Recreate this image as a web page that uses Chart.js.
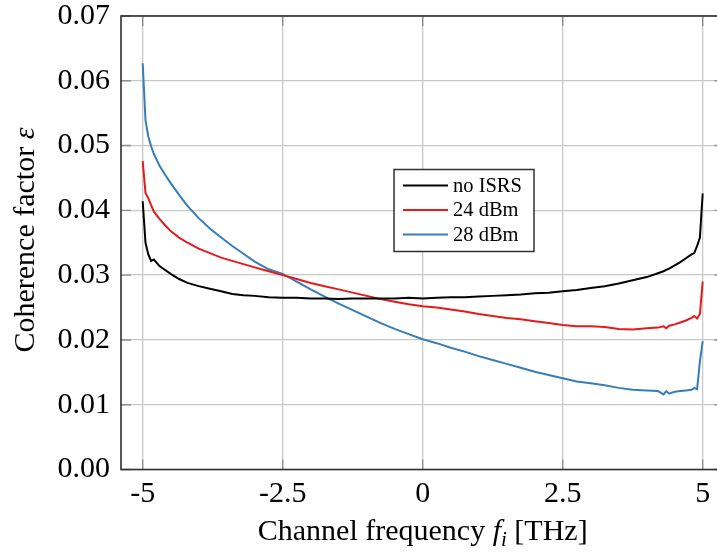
<!DOCTYPE html>
<html><head><meta charset="utf-8">
<script src="https://cdn.jsdelivr.net/npm/chart.js@4/dist/chart.umd.min.js"></script>
<style>
html,body{margin:0;padding:0;overflow:hidden;background:#fff;width:717px;height:554px}
#wrap{position:absolute;left:0;top:0;width:730px;height:554px}
</style>
</head><body><div id="wrap"><canvas id="c" width="730" height="554"></canvas></div>
<script>
const freqTHz = [-5,-4.95,-4.9,-4.85,-4.8,-4.7,-4.6,-4.5,-4.35,-4.2,-4.0,-3.8,-3.6,-3.4,-3.2,-3.0,-2.75,-2.5,-2.25,-2.0,-1.75,-1.5,-1.25,-1.0,-0.75,-0.5,-0.25,0,0.25,0.5,0.75,1.0,1.25,1.5,1.75,2.0,2.25,2.5,2.75,3.0,3.25,3.5,3.75,4.0,4.2,4.3,4.35,4.4,4.5,4.6,4.7,4.8,4.85,4.9,4.95,5.0];
const noISRS = [0.0414,0.0350,0.0332,0.0322,0.0324,0.0314,0.0308,0.0302,0.0294,0.0288,0.0283,0.0279,0.0275,0.0271,0.0269,0.0268,0.0266,0.0265,0.0265,0.0264,0.0264,0.0263,0.0264,0.0264,0.0264,0.0264,0.0265,0.0264,0.0265,0.0266,0.0266,0.0267,0.0268,0.0269,0.0270,0.0272,0.0273,0.0275,0.0277,0.0280,0.0283,0.0287,0.0292,0.0297,0.0303,0.0306,0.0308,0.0310,0.0315,0.0320,0.0326,0.0332,0.0334,0.0345,0.0358,0.0426];
const p24dBm = [0.0476,0.0427,0.0419,0.0408,0.0398,0.0387,0.0377,0.0368,0.0358,0.0350,0.0341,0.0334,0.0327,0.0322,0.0317,0.0312,0.0306,0.0300,0.0294,0.0288,0.0283,0.0278,0.0273,0.0268,0.0263,0.0259,0.0255,0.0252,0.0250,0.0247,0.0244,0.0240,0.0237,0.0234,0.0232,0.0229,0.0226,0.0223,0.0221,0.0221,0.0220,0.0217,0.0216,0.0218,0.0219,0.0221,0.0218,0.0222,0.0224,0.0227,0.0230,0.0234,0.0237,0.0233,0.0240,0.0290];
const p28dBm = [0.0627,0.0539,0.0514,0.0499,0.0487,0.0469,0.0455,0.0442,0.0424,0.0407,0.0388,0.0372,0.0358,0.0345,0.0333,0.0321,0.0309,0.0302,0.0290,0.0278,0.0267,0.0256,0.0246,0.0236,0.0226,0.0217,0.0209,0.0201,0.0195,0.0188,0.0182,0.0175,0.0169,0.0163,0.0157,0.0151,0.0146,0.0141,0.0136,0.0133,0.0130,0.0126,0.0123,0.0122,0.0121,0.0116,0.0121,0.0117,0.0120,0.0121,0.0122,0.0123,0.0126,0.0124,0.0167,0.0198];
const seriesLabels = ['no ISRS','24 dBm','28 dBm'];
const seriesColors = ['#000000','#E41A1C','#377EB8'];
const xTicks = [-5,-2.5,0,2.5,5];
const yTicks = [0,0.01,0.02,0.03,0.04,0.05,0.06,0.07];
const xTitleRuns = [['Channel frequency ',''],['f','italic'],['i','sub'],[' [THz]','']];
const yTitleRuns = [['Coherence factor ',''],['ε','italic']];

const FAM = "'Liberation Serif', 'Times New Roman', serif";
const toPts = arr => arr.map((v,i)=>({x:freqTHz[i], y:v}));
const seriesValues = [noISRS, p24dBm, p28dBm];

function runFont(kind){
  if(kind==='italic') return 'italic 30px '+FAM;
  if(kind==='sub') return 'italic 21px '+FAM;
  return '30px '+FAM;
}
function drawRuns(ctx, runs, cx, baseY){
  let total=0;
  runs.forEach(r=>{ctx.font=runFont(r[1]); total+=ctx.measureText(r[0]).width;});
  let x=cx-total/2;
  ctx.textAlign='left'; ctx.textBaseline='alphabetic'; ctx.fillStyle='#000';
  runs.forEach(r=>{
    ctx.font=runFont(r[1]);
    ctx.fillText(r[0], x, baseY + (r[1]==='sub'?6:0));
    x+=ctx.measureText(r[0]).width;
  });
}

const decor = {
  id:'decor',
  beforeDatasetsDraw(chart){
    const {ctx, chartArea:a, scales:{x,y}} = chart;
    ctx.save(); ctx.strokeStyle='#8f8f8f'; ctx.lineWidth=1.4;
    ctx.beginPath();
    xTicks.forEach(v=>{const px=x.getPixelForValue(v);
      ctx.moveTo(px,a.bottom); ctx.lineTo(px,a.bottom-10);
      ctx.moveTo(px,a.top); ctx.lineTo(px,a.top+10);});
    yTicks.forEach(v=>{const py=y.getPixelForValue(v);
      ctx.moveTo(a.left,py); ctx.lineTo(a.left+10,py);
      ctx.moveTo(a.right,py); ctx.lineTo(a.right-10,py);});
    ctx.stroke(); ctx.restore();
  },
  afterDatasetsDraw(chart){
    const {ctx, chartArea:a} = chart;
    ctx.save();
    ctx.strokeStyle='#303030'; ctx.lineWidth=1.6;
    ctx.strokeRect(a.left, a.top, a.right-a.left, a.bottom-a.top);
    // legend
    const lx=394, ly=169.5, lw=140, lh=82;
    ctx.fillStyle='#fff'; ctx.fillRect(lx,ly,lw,lh);
    ctx.strokeStyle='#303030'; ctx.lineWidth=1.5; ctx.strokeRect(lx,ly,lw,lh);
    ctx.font='20.5px '+FAM; ctx.textBaseline='middle'; ctx.textAlign='left';
    chart.data.datasets.forEach((ds,i)=>{
      const ry = 185.5 + i*24.5;
      ctx.strokeStyle=ds.borderColor; ctx.lineWidth=2;
      ctx.beginPath(); ctx.moveTo(403,ry); ctx.lineTo(448,ry); ctx.stroke();
      ctx.fillStyle='#000'; ctx.fillText(ds.label, 453, ry+1);
    });
    ctx.restore();
  },
  afterDraw(chart){
    const {ctx, chartArea:a} = chart;
    ctx.save();
    drawRuns(ctx, xTitleRuns, (a.left+a.right)/2, 540);
    ctx.translate(34, 240); ctx.rotate(-Math.PI/2);
    drawRuns(ctx, yTitleRuns, 0, 0);
    ctx.restore();
  }
};

new Chart(document.getElementById('c'), {
  type:'line',
  data:{datasets: seriesLabels.map((lab,i)=>({
    label:lab, data:toPts(seriesValues[i]), borderColor:seriesColors[i], backgroundColor:seriesColors[i],
    borderWidth:2, pointRadius:0, tension:0, fill:false
  }))},
  options:{
    responsive:false, animation:false, devicePixelRatio:1,
    layout:{padding:{left:0, top:16, right:5.6, bottom:0}},
    plugins:{legend:{display:false}, tooltip:{enabled:false}},
    scales:{
      x:{type:'linear', min:-5.3875, max:5.3875,
        afterBuildTicks:s=>{s.ticks=xTicks.map(v=>({value:v}));},
        afterFit:s=>{s.height=84.5; s.paddingLeft=0; s.paddingRight=0;},
        grid:{color:'#c8c8c8', lineWidth:1.3, drawTicks:false},
        border:{display:false},
        ticks:{padding:10, color:'#000', font:{family:FAM, size:30, lineHeight:1}, maxRotation:0, autoSkip:false,
          callback:v=>String(v)}
      },
      y:{type:'linear', min:0, max:0.07,
        afterBuildTicks:s=>{s.ticks=yTicks.map(v=>({value:v}));},
        afterFit:s=>{s.width=121; s.paddingTop=0; s.paddingBottom=0;},
        grid:{color:'#c8c8c8', lineWidth:1.3, drawTicks:false},
        border:{display:false},
        ticks:{padding:11, color:'#000', font:{family:FAM, size:30, lineHeight:1}, autoSkip:false,
          callback:v=>Number(v).toFixed(2)}
      }
    }
  },
  plugins:[decor]
});
</script>
</body></html>
